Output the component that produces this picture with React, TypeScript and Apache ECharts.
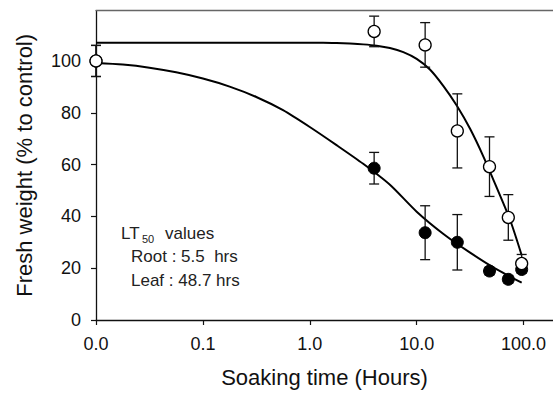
import React, { useEffect, useRef } from "react";
import * as echarts from "echarts";

// Data
const rootT = [0.01, 4, 12, 24, 48, 72, 96];
const rootMean = [100, 58.6, 33.7, 30.0, 18.9, 15.7, 19.5];
const rootErr = [6, 6.1, 10.4, 10.7, 1.5, 1.5, 1.5];

const leafT = [0.01, 4, 12, 24, 48, 72, 96];
const leafMean = [100, 111.4, 106.2, 73, 59.2, 39.6, 21.8];
const leafErr = [6, 5.9, 8.6, 14.3, 11.5, 8.8, 3.5];

// Fitted curves
const rootCurveT = [0.01, 0.0178, 0.0316, 0.0562, 0.1, 0.178, 0.316, 0.562, 1, 1.78, 3.16, 5.62, 10, 17.8, 31.6, 56.2, 96];
const rootCurveY = [99.2, 98.6, 97.4, 95.6, 93.2, 90.1, 86.1, 81.0, 74.5, 67.5, 60.3, 52.2, 41.8, 33.2, 26, 19.5, 14.4];

const leafCurveT = [0.01, 0.1, 0.316, 1, 1.33, 1.78, 2.37, 3.16, 4.22, 5.62, 7.5, 10, 13.3, 17.8, 23.7, 31.6, 42.2, 56.2, 75, 96];
const leafCurveY = [107, 107, 107, 107, 107, 106.9, 106.7, 106.4, 105.9, 105.0, 103.4, 100.8, 96.7, 90.3, 82.8, 73.8, 63, 51, 38.5, 25];

const xTicks = [0.01, 0.1, 1, 10, 100];
const yTicks = [0, 20, 40, 60, 80, 100];

const FONT = "Liberation Sans, Arial, sans-serif";

export default function App() {
  const ref = useRef<HTMLDivElement>(null);
  useEffect(() => {
    if (!ref.current) return;
    const chart = echarts.init(ref.current, null, { renderer: "svg" });

    const errData = (t: number[], m: number[], e: number[]) =>
      t.map((tv, i) => [tv, m[i] - e[i], m[i] + e[i]]);

    const errRender = (params: any, api: any) => {
      const x = api.value(0);
      const lo = api.coord([x, api.value(1)]);
      const hi = api.coord([x, api.value(2)]);
      const cw = 5;
      const style = { stroke: "#111", lineWidth: 1.3, fill: "none" };
      return {
        type: "group",
        children: [
          { type: "line", shape: { x1: lo[0], y1: lo[1], x2: hi[0], y2: hi[1] }, style },
          { type: "line", shape: { x1: lo[0] - cw, y1: lo[1], x2: lo[0] + cw, y2: lo[1] }, style },
          { type: "line", shape: { x1: hi[0] - cw, y1: hi[1], x2: hi[0] + cw, y2: hi[1] }, style },
        ],
      };
    };

    const option: any = {
      animation: false,
      backgroundColor: "#fff",
      grid: { left: 96, right: 0, top: 10.7, bottom: 72.3, containLabel: false },
      xAxis: [
        {
          type: "log",
          logBase: 10,
          min: 0.01,
          max: 188.5,
          name: "Soaking time (Hours)",
          nameLocation: "middle",
          nameGap: 46,
          nameTextStyle: { fontFamily: FONT, fontSize: 22, color: "#111" },
          axisLine: { show: true, lineStyle: { color: "#111", width: 1.3 } },
          axisTick: { show: true, length: 5, inside: false, customValues: xTicks, lineStyle: { color: "#111", width: 1.2 } },
          minorTick: { show: false },
          splitLine: { show: false },
          axisLabel: {
            customValues: xTicks,
            margin: 15,
            fontFamily: FONT,
            fontSize: 18,
            color: "#111",
            formatter: (v: number) => Number(v).toFixed(1),
          },
        },
        {
          type: "value",
          position: "top",
          min: 0,
          max: 1,
          axisLine: { show: true, onZero: false, lineStyle: { color: "#666", width: 1.3 } },
          axisTick: { show: false },
          axisLabel: { show: false },
          splitLine: { show: false },
        },
      ],
      yAxis: {
        type: "value",
        min: 0,
        max: 119.4,
        name: "Fresh weight (% to control)",
        nameLocation: "middle",
        nameGap: 61,
        nameRotate: 90,
        nameTextStyle: { fontFamily: FONT, fontSize: 22, color: "#111" },
        axisLine: { show: true, lineStyle: { color: "#111", width: 1.3 } },
        axisTick: { show: true, length: 5, customValues: yTicks, lineStyle: { color: "#111", width: 1.2 } },
        splitLine: { show: false },
        axisLabel: {
          customValues: yTicks,
          margin: 15,
          fontFamily: FONT,
          fontSize: 18,
          color: "#111",
        },
      },
      graphic: [
        { type: "text", left: 121, top: 225, style: { text: "LT", fontFamily: FONT, fontSize: 17, fill: "#222" } },
        { type: "text", left: 142, top: 233, style: { text: "50", fontFamily: FONT, fontSize: 11, fill: "#222" } },
        { type: "text", left: 165, top: 225, style: { text: "values", fontFamily: FONT, fontSize: 17, fill: "#222" } },
        { type: "text", left: 131, top: 248, style: { text: "Root : 5.5  hrs", fontFamily: FONT, fontSize: 17, fill: "#222" } },
        { type: "text", left: 131, top: 272, style: { text: "Leaf : 48.7 hrs", fontFamily: FONT, fontSize: 17, fill: "#222" } },
      ],
      series: [
        {
          name: "Root fit",
          type: "line",
          data: rootCurveT.map((t, i) => [t, rootCurveY[i]]),
          showSymbol: false,
          smooth: 0.25,
          lineStyle: { color: "#000", width: 2 },
          z: 2,
        },
        {
          name: "Leaf fit",
          type: "line",
          data: leafCurveT.map((t, i) => [t, leafCurveY[i]]),
          showSymbol: false,
          smooth: 0.25,
          lineStyle: { color: "#000", width: 2 },
          z: 2,
        },
        {
          name: "Root err",
          type: "custom",
          renderItem: errRender,
          data: errData(rootT, rootMean, rootErr),
          encode: { x: 0, y: [1, 2] },
          z: 3,
        },
        {
          name: "Leaf err",
          type: "custom",
          renderItem: errRender,
          data: errData(leafT, leafMean, leafErr),
          encode: { x: 0, y: [1, 2] },
          z: 3,
        },
        {
          name: "Root",
          type: "scatter",
          data: rootT.map((t, i) => [t, rootMean[i]]),
          symbol: "circle",
          symbolSize: 12,
          itemStyle: { color: "#000", borderColor: "#000", borderWidth: 1, opacity: 1 },
          z: 4,
        },
        {
          name: "Leaf",
          type: "scatter",
          data: leafT.map((t, i) => [t, leafMean[i]]),
          symbol: "circle",
          symbolSize: 12,
          itemStyle: { color: "#fff", borderColor: "#000", borderWidth: 1.3, opacity: 1 },
          z: 5,
        },
      ],
    };
    chart.setOption(option);
    return () => chart.dispose();
  }, []);

  return (
    <div
      ref={ref}
      style={{ position: "fixed", left: 0, top: 0, width: 553, height: 393, background: "#fff" }}
    />
  );
}
